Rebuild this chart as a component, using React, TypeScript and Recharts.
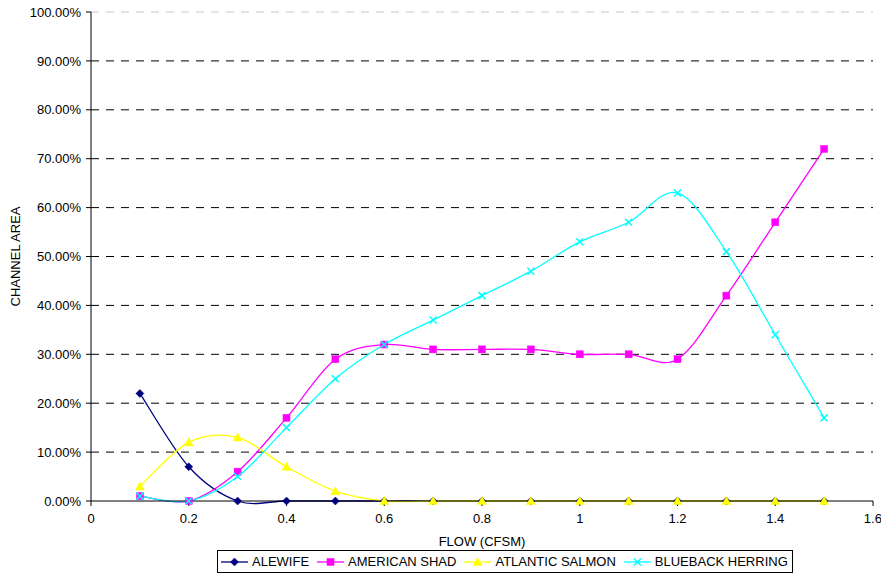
import React from "react";
import { LineChart, Line, XAxis, YAxis, CartesianGrid, ReferenceLine } from "recharts";

const flows = [0.1, 0.2, 0.3, 0.4, 0.5, 0.6, 0.7, 0.8, 0.9, 1.0, 1.1, 1.2, 1.3, 1.4, 1.5];
const alewife = [22, 7, 0, 0, 0, 0, 0, 0, 0, 0, 0, 0, 0, 0, 0];
const americanShad = [1, 0, 6, 17, 29, 32, 31, 31, 31, 30, 30, 29, 42, 57, 72];
const atlanticSalmon = [3, 12, 13, 7, 2, 0, 0, 0, 0, 0, 0, 0, 0, 0, 0];
const bluebackHerring = [1, 0, 5, 15, 25, 32, 37, 42, 47, 53, 57, 63, 51, 34, 17];

const xTicks = [0, 0.2, 0.4, 0.6, 0.8, 1, 1.2, 1.4, 1.6];
const yTicks = [0, 10, 20, 30, 40, 50, 60, 70, 80, 90, 100];
const gridValues = [10, 20, 30, 40, 50, 60, 70, 80, 90];

const seriesNames = ["ALEWIFE", "AMERICAN SHAD", "ATLANTIC SALMON", "BLUEBACK HERRING"];

const data = flows.map((f, i) => ({
  flow: f,
  alewife: alewife[i],
  shad: americanShad[i],
  salmon: atlanticSalmon[i],
  blueback: bluebackHerring[i],
}));

const FONT = "'Liberation Sans', Arial, sans-serif";

// Excel-like smoothed curve (Catmull-Rom style Bezier)
const excelCurve = (context: any) => {
  let pts: number[][] = [];
  return {
    areaStart() {},
    areaEnd() {},
    lineStart() {
      pts = [];
    },
    point(x: number, y: number) {
      pts.push([+x, +y]);
    },
    lineEnd() {
      const n = pts.length;
      if (!n) return;
      context.moveTo(pts[0][0], pts[0][1]);
      for (let i = 0; i < n - 1; i++) {
        const p0 = pts[i - 1] || pts[i];
        const p1 = pts[i];
        const p2 = pts[i + 1];
        const p3 = pts[i + 2] || p2;
        context.bezierCurveTo(
          p1[0] + (p2[0] - p0[0]) / 6,
          p1[1] + (p2[1] - p0[1]) / 6,
          p2[0] - (p3[0] - p1[0]) / 6,
          p2[1] - (p3[1] - p1[1]) / 6,
          p2[0],
          p2[1]
        );
      }
    },
  };
};

const Diamond = (props: any) => {
  const { cx, cy } = props;
  if (cx == null || cy == null) return null;
  const r = 4;
  return (
    <path
      d={`M${cx},${cy - r}L${cx + r},${cy}L${cx},${cy + r}L${cx - r},${cy}Z`}
      fill="#000080"
      stroke="#000080"
      strokeWidth={0.5}
    />
  );
};

const Square = (props: any) => {
  const { cx, cy } = props;
  if (cx == null || cy == null) return null;
  const r = 3.5;
  return <rect x={cx - r} y={cy - r} width={2 * r} height={2 * r} fill="#FF00FF" stroke="#FF00FF" strokeWidth={0.5} />;
};

const Triangle = (props: any) => {
  const { cx, cy } = props;
  if (cx == null || cy == null) return null;
  const r = 4.5;
  return (
    <path
      d={`M${cx},${cy - r}L${cx + r},${cy + r * 0.8}L${cx - r},${cy + r * 0.8}Z`}
      fill="#FFFF00"
      stroke="#FFFF00"
      strokeWidth={0.5}
    />
  );
};

const Cross = (props: any) => {
  const { cx, cy } = props;
  if (cx == null || cy == null) return null;
  const r = 3.5;
  return (
    <path
      d={`M${cx - r},${cy - r}L${cx + r},${cy + r}M${cx + r},${cy - r}L${cx - r},${cy + r}`}
      stroke="#00FFFF"
      strokeWidth={1.5}
      fill="none"
    />
  );
};

const markers = [Diamond, Square, Triangle, Cross];
const colors = ["#000080", "#FF00FF", "#FFFF00", "#00FFFF"];

const LegendBox = () => (
  <div
    style={{
      position: "absolute",
      left: 217,
      top: 550,
      width: 574,
      height: 21,
      border: "1px solid #000",
      display: "flex",
      alignItems: "center",
      fontFamily: FONT,
      fontSize: 13,
      color: "#000",
      background: "#fff",
      boxSizing: "content-box",
    }}
  >
    {seriesNames.map((name, i) => {
      const M = markers[i];
      return (
        <div key={name} style={{ display: "flex", alignItems: "center", marginLeft: i === 0 ? 3 : 8 }}>
          <svg width={27} height={14}>
            <line x1={0} y1={7} x2={27} y2={7} stroke={colors[i]} strokeWidth={1.3} />
            <M cx={13.5} cy={7} />
          </svg>
          <span style={{ marginLeft: 4, whiteSpace: "nowrap" }}>{name}</span>
        </div>
      );
    })}
  </div>
);

export default function App() {
  return (
    <div style={{ position: "absolute", left: 0, top: 0, width: 881, height: 576, background: "#fff" }}>
      <LineChart
        width={881}
        height={576}
        data={data}
        margin={{ top: 12, right: 8, left: 0, bottom: 0 }}
      >
        <CartesianGrid horizontal={true} vertical={false} stroke="#000" strokeDasharray="8 7" horizontalValues={gridValues} />
        <ReferenceLine y={100} stroke="#c8c8c8" strokeDasharray="8 7" />
        <XAxis
          dataKey="flow"
          type="number"
          domain={[0, 1.6]}
          ticks={xTicks}
          tickFormatter={(v: number) => String(Number(v.toFixed(1)))}
          height={75}
          stroke="#000"
          tickSize={5}
          tickMargin={8}
          tick={{ fill: "#000", fontSize: 13, fontFamily: FONT }}
          label={{ value: "FLOW (CFSM)", position: "insideTop", offset: 36, fill: "#000", fontSize: 13, fontFamily: FONT }}
          allowDecimals
        />
        <YAxis
          type="number"
          domain={[0, 100]}
          ticks={yTicks}
          tickFormatter={(v: number) => `${v.toFixed(2)}%`}
          width={91}
          stroke="#000"
          tickSize={5}
          tickMargin={5}
          tick={{ fill: "#000", fontSize: 13, fontFamily: FONT }}
          label={{
            value: "CHANNEL AREA",
            angle: -90,
            position: "insideLeft",
            offset: 15,
            style: { textAnchor: "middle" },
            fill: "#000",
            fontSize: 13,
            fontFamily: FONT,
          }}
        />
        <Line dataKey="alewife" name={seriesNames[0]} type={excelCurve as any} stroke="#000080" strokeWidth={1.3} dot={<Diamond />} activeDot={false} isAnimationActive={false} />
        <Line dataKey="shad" name={seriesNames[1]} type={excelCurve as any} stroke="#FF00FF" strokeWidth={1.3} dot={<Square />} activeDot={false} isAnimationActive={false} />
        <Line dataKey="salmon" name={seriesNames[2]} type={excelCurve as any} stroke="#FFFF00" strokeWidth={1.3} dot={<Triangle />} activeDot={false} isAnimationActive={false} />
        <Line dataKey="blueback" name={seriesNames[3]} type={excelCurve as any} stroke="#00FFFF" strokeWidth={1.3} dot={<Cross />} activeDot={false} isAnimationActive={false} />
      </LineChart>
      <LegendBox />
    </div>
  );
}
